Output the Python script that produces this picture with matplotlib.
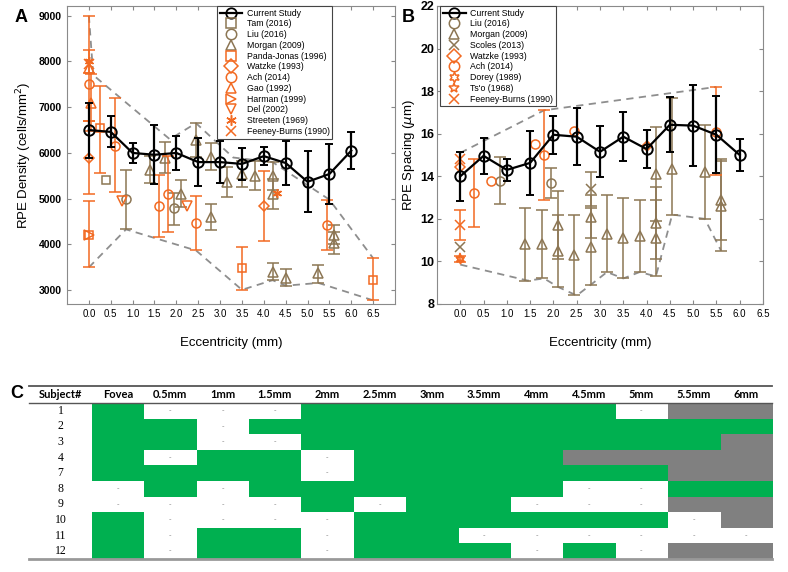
import numpy as np
import matplotlib.pyplot as plt
from matplotlib.lines import Line2D
from matplotlib.colors import ListedColormap

plt.rcParams['font.family'] = ['Liberation Sans', 'DejaVu Sans']

ORANGE = '#F26A22'
BROWN = '#8C7654'
ENV = '#8E8E8E'

# ---------------- data: current study ----------------
ecc = [0.0, 0.5, 1.0, 1.5, 2.0, 2.5, 3.0, 3.5, 4.0, 4.5, 5.0, 5.5, 6.0]
density = [6500, 6460, 6000, 5960, 6000, 5800, 5800, 5760, 5930, 5780, 5370, 5540, 6050]
density_sd = [600, 340, 210, 640, 370, 530, 450, 350, 200, 470, 670, 660, 400]
spacing = [14.0, 14.96, 14.3, 14.63, 15.95, 15.86, 15.15, 15.86, 15.28, 16.42, 16.38, 15.95, 15.0]
spacing_sd = [1.15, 0.85, 0.5, 1.5, 0.9, 1.35, 1.2, 1.15, 0.9, 1.3, 1.92, 1.8, 0.75]

# ---------------- data: literature, density (x, y, low end, high end) ----------------
nan = np.nan
tam_a = dict(x=[0.4], y=[5400], lo=[nan], hi=[nan])
liu_a = dict(x=[0.85, 1.95], y=[4990, 4790], lo=[4330, 4420], hi=[5630, 5130])
morgan_a = dict(
    x=[1.4, 1.75, 2.1, 2.45, 2.8, 2.8, 3.15, 3.5, 3.8, 4.2, 4.2, 4.2, 4.5, 5.25, 5.6, 5.6],
    y=[5630, 5900, 5110, 6280, 5920, 4600, 5370, 5540, 5500, 5500, 5100, 3400, 3270, 3370, 4210, 4040],
    lo=[5340, 5560, 4820, 5910, 5620, 4310, 5030, 5250, 5180, 5200, 4780, 3220, 3100, 3160, 4000, 3790],
    hi=[5930, 6240, 5410, 6650, 6220, 4880, 5700, 5830, 5820, 5800, 5420, 3590, 3460, 3560, 4420, 4280])
panda_a = dict(x=[0.0, 0.25, 3.5, 6.5], y=[4200, 6550, 3480, 3230],
               lo=[nan, 5560, 3010, 2780], hi=[nan, 7460, 3940, 3700])
watzke_a = dict(x=[0.0, 4.0], y=[5900, 4850], lo=[5100, 4070], hi=[6700, 5600])
ach_a = dict(x=[0.0, 0.6, 1.6, 1.8, 2.45, 5.45], y=[7500, 6150, 4850, 5100, 4480, 4430],
             lo=[nan, 5140, 4160, 4270, 3870, 3870], hi=[nan, 7200, 5520, 5930, 5060, 4980])
gao_a = dict(x=[0.0, 0.05], y=[7850, 7100], lo=[6700, 6470], hi=[9000, 7730])
harman_a = dict(x=[0.0], y=[4200], lo=[3500], hi=[4950])
del_a = dict(x=[0.75, 2.25], y=[4960, 4830], lo=[nan, nan], hi=[nan, nan])
streeten_a = dict(x=[0.0, 4.3], y=[8000, 5130], lo=[7750, nan], hi=[8250, nan])
feeney_a = dict(x=[0.0], y=[7950], lo=[nan], hi=[nan])

env_a_up_x = [0.0, 0.1, 1.85, 2.45, 3.3, 4.2, 5.5, 6.5]
env_a_up_y = [9000, 7700, 6300, 6650, 5900, 5800, 4980, 3700]
env_a_lo_x = [0.0, 0.85, 2.45, 3.5, 4.2, 4.5, 5.25, 6.5]
env_a_lo_y = [3500, 4330, 3870, 3010, 3220, 3100, 3160, 2780]

# ---------------- data: literature, spacing ----------------
liu_b = dict(x=[0.85, 1.95], y=[13.8, 13.7], lo=[12.7, 13.0], hi=[14.9, 14.4])
morgan_b = dict(
    x=[1.4, 1.75, 2.1, 2.1, 2.45, 2.8, 2.8, 3.15, 3.5, 3.85, 4.2, 4.2, 4.2, 4.55, 5.25, 5.6, 5.6],
    y=[10.8, 10.8, 11.7, 10.5, 10.3, 12.1, 10.7, 11.3, 11.1, 11.2, 14.1, 11.8, 11.1, 14.35, 14.2, 12.9, 12.6],
    lo=[9.1, 9.2, 10.1, 8.8, 8.4, 11.1, 8.9, 9.5, 9.2, 9.5, 11.9, 10.1, 9.3, 12.2, 12.0, 11.0, 10.5],
    hi=[12.5, 12.4, 13.3, 12.2, 12.2, 13.1, 12.5, 13.1, 13.0, 12.9, 16.3, 13.5, 12.9, 17.7, 16.4, 14.8, 14.7])
scoles_b = dict(x=[0.0, 2.8], y=[10.7, 13.4], lo=[nan, 12.6], hi=[nan, 14.2])
watzke_b = dict(x=[0.0, 4.0], y=[14.45, 15.4], lo=[nan, nan], hi=[nan, nan])
ach_b = dict(x=[0.3, 0.65, 1.6, 1.8, 2.45, 5.5], y=[13.2, 13.8, 15.5, 15.0, 16.15, 16.1],
             lo=[11.6, nan, nan, 12.9, nan, 14.05], hi=[14.8, nan, nan, 17.1, nan, 18.2])
dorey_b = dict(x=[0.0], y=[10.1], lo=[9.95], hi=[10.25])
tso_b = dict(x=[0.0], y=[10.15], lo=[nan], hi=[nan])
feeney_b = dict(x=[0.0, 0.0], y=[14.8, 11.7], lo=[nan, 11.0], hi=[nan, 12.4])

env_b_up_x = [0.0, 1.8, 5.5]
env_b_up_y = [15.1, 17.1, 18.2]
env_b_lo_x = [0.0, 1.45, 1.8, 2.1, 2.5, 2.8, 3.15, 3.5, 3.85, 4.2, 4.55, 5.25, 5.6]
env_b_lo_y = [9.85, 9.1, 9.2, 8.8, 8.4, 8.9, 9.5, 9.2, 9.5, 9.3, 12.2, 12.0, 10.5]

# ---------------- data: table C ----------------
subjects = ['1', '2', '3', '4', '7', '8', '9', '10', '11', '12']
columns = ['Fovea', '0.5mm', '1mm', '1.5mm', '2mm', '2.5mm', '3mm', '3.5mm',
           '4mm', '4.5mm', '5mm', '5.5mm', '6mm']
# 1 = measured, 0 = not measured, 2 = outside imaged area
cells = [
    [1, 0, 0, 0, 1, 1, 1, 1, 1, 1, 0, 2, 2],
    [1, 1, 0, 1, 1, 1, 1, 1, 1, 1, 1, 1, 1],
    [1, 1, 0, 0, 1, 1, 1, 1, 1, 1, 1, 1, 2],
    [1, 0, 1, 1, 0, 1, 1, 1, 1, 2, 2, 2, 2],
    [1, 1, 1, 1, 0, 1, 1, 1, 1, 1, 1, 2, 2],
    [0, 1, 0, 1, 1, 1, 1, 1, 1, 0, 0, 1, 1],
    [0, 0, 0, 0, 1, 0, 1, 1, 0, 0, 0, 2, 2],
    [1, 0, 0, 0, 0, 1, 1, 1, 1, 1, 1, 0, 2],
    [1, 0, 1, 1, 0, 1, 1, 0, 0, 0, 0, 0, 0],
    [1, 0, 1, 1, 0, 1, 1, 1, 0, 1, 0, 2, 2],
]

ASTER = (6, 2, 0)
HEXA = (6, 1, 0)


def lit(ax, d, color, marker, ms=6.5):
    x = np.array(d['x'], float)
    y = np.array(d['y'], float)
    lo = np.array(d['lo'], float)
    hi = np.array(d['hi'], float)
    ok = ~np.isnan(lo)
    if ok.any():
        ax.errorbar(x[ok], y[ok], yerr=[y[ok] - lo[ok], hi[ok] - y[ok]], fmt='none',
                    ecolor=color, elinewidth=1.1, capsize=4, capthick=1.1, zorder=3)
    ax.plot(x, y, ls='none', marker=marker, ms=ms, mfc='none', mec=color, mew=1.1, zorder=3)


def current(ax, y, sd):
    ax.errorbar(ecc, y, yerr=sd, color='k', lw=1.6, marker='o', ms=7.5, mfc='none',
                mew=1.4, elinewidth=1.6, capsize=3, capthick=1.6, zorder=6)


def style(ax, ysize, ypad):
    ax.tick_params(direction='in', top=True, right=True, color='#888888', length=3, width=0.8)
    ax.tick_params(axis='x', labelsize=7)
    ax.tick_params(axis='y', labelsize=ysize, pad=ypad)
    for lab in ax.get_yticklabels():
        lab.set_fontweight('bold')
    for s in ax.spines.values():
        s.set_color('#8a8a8a')
    ax.set_xticks([0.0, 0.5, 1.0, 1.5, 2.0, 2.5, 3.0, 3.5, 4.0, 4.5, 5.0, 5.5, 6.0, 6.5])
    ax.set_xticklabels(['%.1f' % v for v in ax.get_xticks()])
    ax.set_xlabel('Eccentricity (mm)', fontsize=9.5)
    ax.xaxis.set_label_coords(0.5, -0.11)


def h(label, color, marker, line=False):
    return Line2D([], [], color=color, ls='-' if line else 'none', lw=1.6, marker=marker,
                  ms=7.5, mfc='none', mec=color, mew=1.3 if line else 1.1, label=label)


fig = plt.figure(figsize=(7.88, 5.72), dpi=100)

# ---------------- panel A ----------------
axA = fig.add_axes([67 / 788, 268 / 572, 328 / 788, 298 / 572])
axA.plot(env_a_up_x, env_a_up_y, color=ENV, ls=(0, (4, 3)), lw=1.3, zorder=1)
axA.plot(env_a_lo_x, env_a_lo_y, color=ENV, ls=(0, (4, 3)), lw=1.3, zorder=1)
lit(axA, tam_a, BROWN, 's', 6)
lit(axA, liu_a, BROWN, 'o')
lit(axA, morgan_a, BROWN, '^')
lit(axA, panda_a, ORANGE, 's', 6)
lit(axA, watzke_a, ORANGE, 'D', 5)
lit(axA, ach_a, ORANGE, 'o')
lit(axA, gao_a, ORANGE, '^')
lit(axA, harman_a, ORANGE, '>')
lit(axA, del_a, ORANGE, 'v')
lit(axA, streeten_a, ORANGE, ASTER)
lit(axA, feeney_a, ORANGE, 'x')
current(axA, density, density_sd)
axA.set_xlim(-0.5, 7.0)
axA.set_ylim(2700, 9210)
axA.set_yticks([3000, 4000, 5000, 6000, 7000, 8000, 9000])
style(axA, 7.5, 4)
axA.set_ylabel('RPE Density (cells/mm$^2$)', fontsize=9.5)
axA.yaxis.set_label_coords(-0.1, 0.5)
handles_a = [h('Current Study', 'k', 'o', True), h('Tam (2016)', BROWN, 's'),
             h('Liu (2016)', BROWN, 'o'), h('Morgan (2009)', BROWN, '^'),
             h('Panda-Jonas (1996)', ORANGE, 's'), h('Watzke (1993)', ORANGE, 'D'),
             h('Ach (2014)', ORANGE, 'o'), h('Gao (1992)', ORANGE, '^'),
             h('Harman (1999)', ORANGE, '>'), h('Del (2002)', ORANGE, 'v'),
             h('Streeten (1969)', ORANGE, ASTER), h('Feeney-Burns (1990)', ORANGE, 'x')]
leg = axA.legend(handles=handles_a, loc='upper left', bbox_to_anchor=(0.457, 1.0),
                 borderaxespad=0, fontsize=6.3, frameon=True, fancybox=False,
                 edgecolor='#444444', framealpha=1, labelspacing=0.2, handlelength=2.6,
                 handletextpad=0.5, borderpad=0.3)
leg.get_frame().set_linewidth(0.8)
leg.set_zorder(10)

# ---------------- panel B ----------------
axB = fig.add_axes([437 / 788, 268 / 572, 326 / 788, 298 / 572])
axB.plot(env_b_up_x, env_b_up_y, color=ENV, ls=(0, (4, 3)), lw=1.3, zorder=1)
axB.plot(env_b_lo_x, env_b_lo_y, color=ENV, ls=(0, (4, 3)), lw=1.3, zorder=1)
lit(axB, liu_b, BROWN, 'o')
lit(axB, morgan_b, BROWN, '^')
lit(axB, scoles_b, BROWN, 'x')
lit(axB, watzke_b, ORANGE, 'D', 5)
lit(axB, ach_b, ORANGE, 'o')
lit(axB, dorey_b, ORANGE, HEXA)
lit(axB, tso_b, ORANGE, '*')
lit(axB, feeney_b, ORANGE, 'x')
current(axB, spacing, spacing_sd)
axB.set_xlim(-0.5, 6.5)
axB.set_ylim(8, 22)
axB.set_yticks([8, 10, 12, 14, 16, 18, 20, 22])
style(axB, 9, 2)
axB.set_ylabel(r'RPE Spacing ($\mu$m)', fontsize=9.5)
axB.yaxis.set_label_coords(-0.062, 0.5)
handles_b = [h('Current Study', 'k', 'o', True), h('Liu (2016)', BROWN, 'o'),
             h('Morgan (2009)', BROWN, '^'), h('Scoles (2013)', BROWN, 'x'),
             h('Watzke (1993)', ORANGE, 'D'), h('Ach (2014)', ORANGE, 'o'),
             h('Dorey (1989)', ORANGE, HEXA), h("Ts'o (1968)", ORANGE, '*'),
             h('Feeney-Burns (1990)', ORANGE, 'x')]
leg = axB.legend(handles=handles_b, loc='upper left', bbox_to_anchor=(0.01, 1.0),
                 borderaxespad=0, fontsize=6.3, frameon=True, fancybox=False,
                 edgecolor='#444444', framealpha=1, labelspacing=0.2, handlelength=2.6,
                 handletextpad=0.5, borderpad=0.3)
leg.get_frame().set_linewidth(0.8)
leg.set_zorder(10)

fig.text(21 / 788, 1 - 18 / 572, 'A', fontsize=13, fontweight='bold', ha='center', va='center')
fig.text(408 / 788, 1 - 18 / 572, 'B', fontsize=13, fontweight='bold', ha='center', va='center')

# ---------------- panel C: table ----------------
axC = fig.add_axes([29 / 788, 13 / 572, 743 / 788, 173 / 572])
cmap = ListedColormap(['white', '#00B050', '#808080'])
nr = len(subjects)
nc = len(columns)
axC.imshow(np.array(cells), cmap=cmap, vmin=0, vmax=2, aspect='auto',
           interpolation='nearest', extent=(0, nc, nr, 0))
hdr = -1.09
axC.set_xlim(-1.2, nc)
axC.set_ylim(nr, hdr)
axC.axis('off')
axC.text(-0.6, hdr / 2, 'Subject#', ha='center', va='center', fontsize=8,
         fontweight='bold', family='Lato')
for j, c in enumerate(columns):
    axC.text(j + 0.5, hdr / 2, c, ha='center', va='center', fontsize=8,
             fontweight='bold', family='Lato')
for i, s in enumerate(subjects):
    axC.text(-0.6, i + 0.5, s, ha='center', va='center', fontsize=8.5, family='Liberation Serif')
    for j in range(nc):
        if cells[i][j] == 0:
            axC.text(j + 0.5, i + 0.5, '-', ha='center', va='center', fontsize=5.5, color='#888888')
axC.plot([-1.2, nc], [hdr, hdr], color='#555555', lw=1.3, clip_on=False)
axC.plot([-1.2, nc], [0, 0], color='#555555', lw=1.0, clip_on=False)
axC.plot([-1.2, nc], [nr, nr], color='#999999', lw=2.0, clip_on=False)
fig.text(17 / 788, 1 - 393 / 572, 'C', fontsize=13, fontweight='bold', ha='center', va='center')

fig.savefig('out.png', dpi=100)
